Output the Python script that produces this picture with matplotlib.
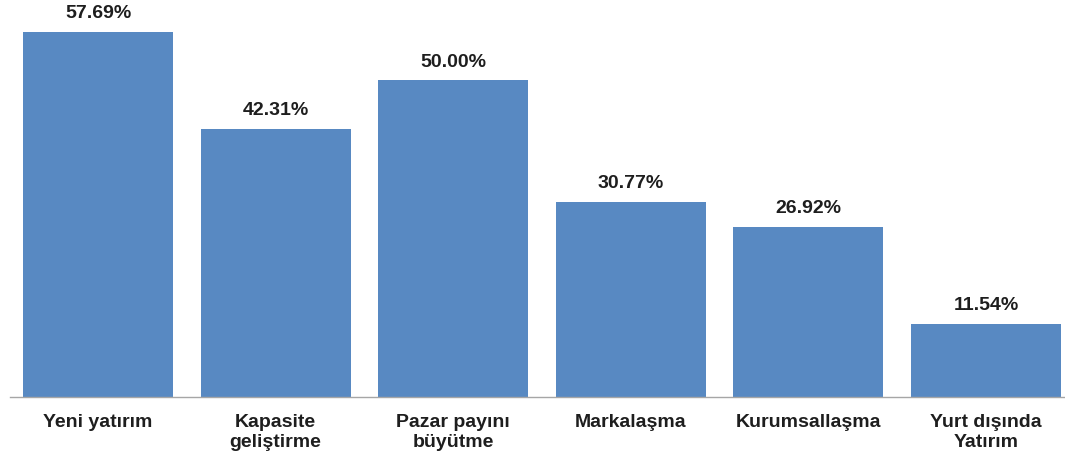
import matplotlib
matplotlib.use("Agg")
import matplotlib.pyplot as plt

categories = ["Yeni yatırım", "Kapasite\ngeliştirme", "Pazar payını\nbüyütme",
              "Markalaşma", "Kurumsallaşma", "Yurt dışında\nYatırım"]
values = [57.69, 42.31, 50.00, 30.77, 26.92, 11.54]
value_labels = ["57.69%", "42.31%", "50.00%", "30.77%", "26.92%", "11.54%"]

plt.rcParams['font.family'] = ['Liberation Sans', 'DejaVu Sans']

fig = plt.figure(figsize=(10.65, 4.62), dpi=100)
ax = fig.add_axes([10/1065, 65/462, 1 - 10/1065, 397/462])

x = list(range(len(categories)))
bars = ax.bar(x, values, width=0.845, color="#5889C2", zorder=2)

for xi, v, lab in zip(x, values, value_labels):
    ax.annotate(lab, (xi, v), xytext=(0, 7), textcoords="offset points",
                ha="center", va="bottom", fontsize=14, fontweight="bold",
                color="#1E1E1E")

ax.set_xlim(-0.496, 5.445)
ax.set_ylim(0, 62.7)
ax.set_xticks(x)
ax.set_xticklabels(categories, fontsize=14, fontweight="bold", color="#1E1E1E",
                   linespacing=1.25)
ax.tick_params(axis="x", length=0, pad=12)
ax.set_yticks([])
for s in ["top", "right", "left"]:
    ax.spines[s].set_visible(False)
ax.spines["bottom"].set_color("#A6A6A6")
ax.spines["bottom"].set_linewidth(1.0)

fig.savefig("out.png", dpi=100)
